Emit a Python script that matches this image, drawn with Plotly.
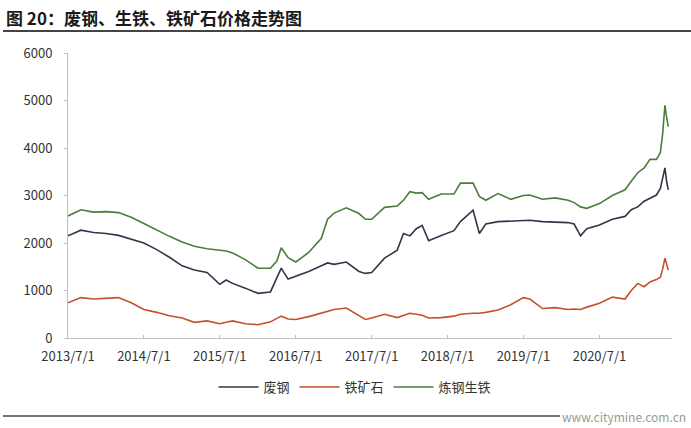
import plotly.graph_objects as go

dates = [
    "2013-07-01", "2013-09-01", "2013-11-01", "2014-01-01", "2014-03-01", "2014-05-01",
    "2014-07-01", "2014-09-01", "2014-11-01", "2015-01-01", "2015-03-01", "2015-05-01",
    "2015-07-01", "2015-08-01", "2015-09-01", "2015-11-01", "2016-01-01", "2016-03-01",
    "2016-04-01", "2016-04-22", "2016-05-25", "2016-07-01", "2016-09-01", "2016-11-01",
    "2016-12-01", "2017-01-01", "2017-03-01", "2017-05-01", "2017-06-01", "2017-07-01",
    "2017-09-01", "2017-11-01", "2017-12-01", "2018-01-01", "2018-02-01", "2018-03-01",
    "2018-04-01", "2018-06-01", "2018-08-01", "2018-09-01", "2018-11-01", "2018-12-01",
    "2019-01-01", "2019-03-01", "2019-05-01", "2019-07-01", "2019-08-01", "2019-10-01",
    "2019-12-01", "2020-02-01", "2020-03-01", "2020-04-01", "2020-05-01", "2020-07-01",
    "2020-09-01", "2020-11-01", "2020-12-01", "2021-01-01", "2021-02-01", "2021-03-01",
    "2021-04-01", "2021-04-20", "2021-05-01", "2021-05-12", "2021-05-20", "2021-05-28",
]

scrap_steel = [
    2150, 2270, 2220, 2200, 2160, 2080,
    2000, 1860, 1700, 1520, 1430, 1380,
    1130, 1220, 1150, 1050, 940, 970,
    1250, 1470, 1240, 1300, 1400, 1520,
    1580, 1550, 1600, 1400, 1360, 1380,
    1680, 1850, 2200, 2150, 2300, 2370,
    2050, 2160, 2260, 2450, 2690, 2200,
    2400, 2450, 2460, 2480, 2480, 2450,
    2440, 2430, 2400, 2150, 2300, 2380,
    2500, 2560, 2700, 2760, 2880, 2950,
    3010, 3150, 3400, 3580, 3300, 3120,
]

iron_ore = [
    740, 850, 820, 830, 850, 740,
    600, 540, 470, 420, 330, 360,
    300, 330, 360, 300, 280, 340,
    420, 460, 400, 390, 450, 520,
    570, 600, 630, 480, 390, 420,
    500, 430, 470, 520, 500, 480,
    420, 430, 460, 500, 520, 520,
    540, 590, 700, 850, 820, 620,
    640, 600, 610, 600, 650, 730,
    860, 820, 1000, 1150, 1080, 1180,
    1230, 1280, 1450, 1680, 1560, 1430,
]

pig_iron = [
    2570, 2700, 2650, 2660, 2640, 2540,
    2410, 2270, 2140, 2020, 1930, 1880,
    1850, 1830, 1790, 1650, 1470, 1470,
    1620, 1900, 1690, 1600, 1800, 2100,
    2500, 2630, 2740, 2620, 2500, 2500,
    2750, 2780, 2900, 3080, 3050, 3060,
    2920, 3030, 3030, 3260, 3260, 2980,
    2900, 3040, 2920, 3000, 3010, 2920,
    2950, 2900, 2850, 2760, 2730, 2830,
    3000, 3120, 3300, 3480, 3580, 3760,
    3760, 3900, 4300, 4900, 4650, 4450,
]

tick_dates = ["2013-07-01", "2014-07-01", "2015-07-01", "2016-07-01",
              "2017-07-01", "2018-07-01", "2019-07-01", "2020-07-01"]
tick_labels = ["2013/7/1", "2014/7/1", "2015/7/1", "2016/7/1",
               "2017/7/1", "2018/7/1", "2019/7/1", "2020/7/1"]
y_ticks = [0, 1000, 2000, 3000, 4000, 5000, 6000]

series_names = ["废钢", "铁矿石", "炼钢生铁"]
colors = ["#33354a", "#c4502e", "#4a7d3a"]

font_family = "Noto Sans CJK SC, Noto Sans, sans-serif"

W, H = 691, 428
L, R, T, B = 68, 19, 53, 90
PW, PH = W - L - R, H - T - B

fig = go.Figure()
for name, vals, col in zip(series_names, [scrap_steel, iron_ore, pig_iron], colors):
    fig.add_trace(go.Scatter(x=dates, y=vals, mode="lines", name=name,
                             line=dict(color=col, width=1.6)))

fig.update_layout(
    width=W, height=H,
    margin=dict(l=L, r=R, t=T, b=B),
    paper_bgcolor="white", plot_bgcolor="white",
    font=dict(family=font_family, size=13, color="#333333"),
    showlegend=True,
    legend=dict(orientation="h", x=(355 - L) / PW, xanchor="center",
                y=-(372 - 338) / PH, yanchor="top",
                font=dict(size=13, color="#333333"), itemwidth=40,
                tracegroupgap=0),
    xaxis=dict(type="date", range=["2013-07-01", "2021-06-15"],
               tickvals=tick_dates, ticktext=tick_labels,
               showgrid=False, showline=True, linecolor="#bfbfbf", linewidth=1,
               ticks="inside", ticklen=3, tickcolor="#bfbfbf",
               ticklabelstandoff=6,
               tickfont=dict(size=13, color="#333333"), zeroline=False),
    yaxis=dict(range=[0, 6000], tickvals=y_ticks,
               showgrid=False, showline=True, linecolor="#bfbfbf", linewidth=1,
               ticks="outside", ticklen=3, tickcolor="#bfbfbf",
               ticklabelstandoff=9,
               tickfont=dict(size=13, color="#333333"), zeroline=False),
)

fig.add_annotation(text="<b>图 20：废钢、生铁、铁矿石价格走势图</b>", xref="paper", yref="paper",
                   x=-(L - 4) / PW, y=1 + (T - 17) / PH, xanchor="left", yanchor="middle",
                   showarrow=False, font=dict(size=17, color="#1a1a1a", family=font_family))

fig.add_shape(type="line", xref="paper", yref="paper",
              x0=-(L - 3) / PW, x1=1 + R / PW, y0=1 + (T - 31) / PH, y1=1 + (T - 31) / PH,
              line=dict(color="#444444", width=2))
fig.add_shape(type="line", xref="paper", yref="paper",
              x0=-(L - 3) / PW, x1=(560 - L) / PW, y0=-(416 - 338) / PH, y1=-(416 - 338) / PH,
              line=dict(color="#444444", width=1.5))
fig.add_annotation(text="www.citymine.com.cn", xref="paper", yref="paper",
                   x=1 + (R - 3) / PW, y=-(416 - 338) / PH, xanchor="right", yanchor="middle",
                   showarrow=False, font=dict(size=12, color="#9a9a9a", family=font_family))

fig.write_html("out.html", config={"displayModeBar": False},
               post_script="document.body.style.margin='0';")
